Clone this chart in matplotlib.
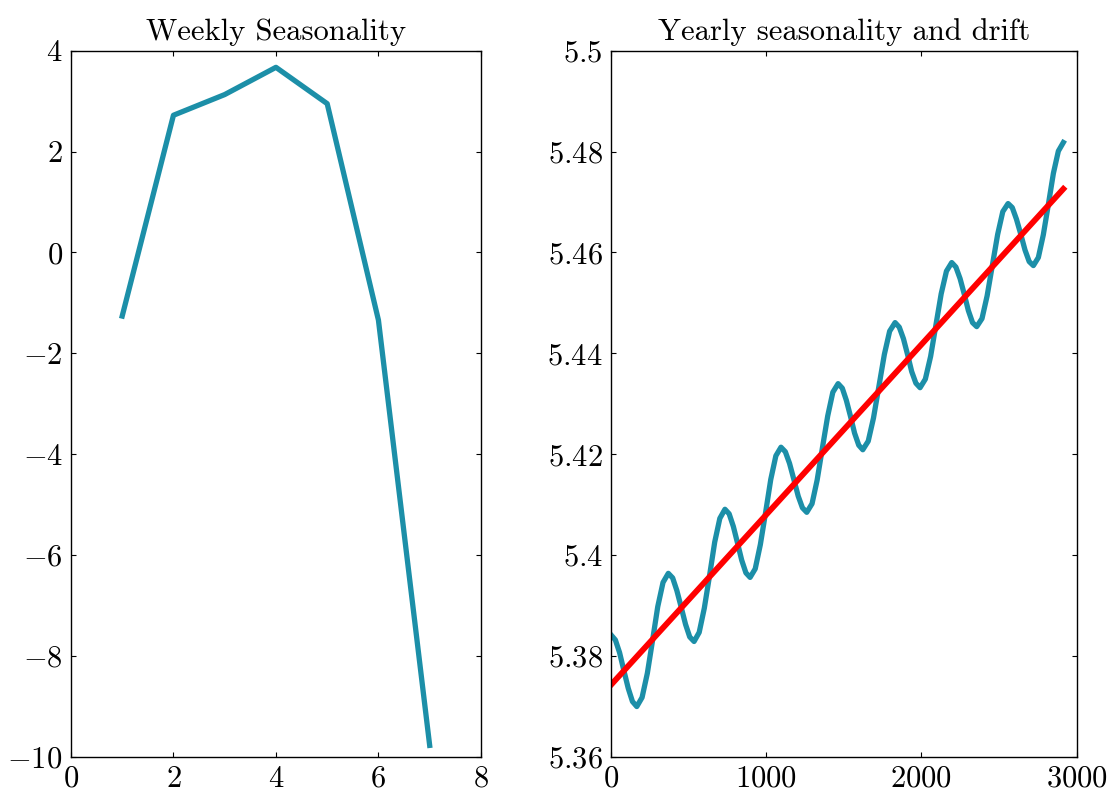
"""Two-panel seasonality plot: weekly pattern and yearly cycle with drift."""

import matplotlib
matplotlib.use("Agg")
import matplotlib.pyplot as plt
from matplotlib.ticker import FuncFormatter

plt.rcParams["font.family"] = "cmr10"
plt.rcParams["mathtext.fontset"] = "cm"
plt.rcParams["axes.formatter.use_mathtext"] = True
plt.rcParams["xtick.direction"] = "in"
plt.rcParams["ytick.direction"] = "in"
plt.rcParams["xtick.top"] = True
plt.rcParams["ytick.right"] = True

SEASON_COLOR = "#1c8fa8"
DRIFT_COLOR = "#ff0000"

# weekly component, one value per weekday
weekday = [1, 2, 3, 4, 5, 6, 7]
weekly = [-1.26, 2.72, 3.13, 3.67, 2.95, -1.34, -9.77]

# yearly seasonality + trend (day index, value)
days = [0, 28, 55, 83, 111, 138,
        166, 200, 234, 268, 301, 335,
        369, 397, 424, 452, 480, 507,
        535, 568, 601, 635, 668, 701,
        734, 761, 788, 815, 842, 869,
        896, 929, 962, 996, 1029, 1062,
        1095, 1123, 1150, 1178, 1206, 1233,
        1261, 1295, 1328, 1362, 1396, 1429,
        1463, 1490, 1516, 1543, 1569, 1596,
        1622, 1657, 1691, 1726, 1761, 1795,
        1830, 1857, 1884, 1911, 1937, 1964,
        1991, 2025, 2059, 2093, 2127, 2161,
        2195, 2222, 2249, 2276, 2302, 2329,
        2356, 2390, 2423, 2457, 2491, 2524,
        2558, 2585, 2612, 2640, 2667, 2694,
        2721, 2753, 2785, 2818, 2850, 2882,
        2914]
yearly = [5.3842, 5.3832, 5.3807, 5.3771, 5.3736, 5.3710,
          5.3700, 5.3718, 5.3766, 5.3832, 5.3898, 5.3946,
          5.3964, 5.3955, 5.3930, 5.3897, 5.3863, 5.3838,
          5.3829, 5.3847, 5.3895, 5.3960, 5.4026, 5.4073,
          5.4091, 5.4082, 5.4057, 5.4024, 5.3990, 5.3965,
          5.3956, 5.3973, 5.4021, 5.4085, 5.4150, 5.4197,
          5.4214, 5.4205, 5.4182, 5.4150, 5.4117, 5.4094,
          5.4085, 5.4102, 5.4149, 5.4213, 5.4276, 5.4323,
          5.4340, 5.4331, 5.4307, 5.4275, 5.4242, 5.4218,
          5.4209, 5.4226, 5.4272, 5.4335, 5.4398, 5.4444,
          5.4461, 5.4452, 5.4429, 5.4397, 5.4364, 5.4341,
          5.4332, 5.4349, 5.4394, 5.4456, 5.4518, 5.4563,
          5.4580, 5.4571, 5.4548, 5.4517, 5.4485, 5.4461,
          5.4453, 5.4469, 5.4514, 5.4575, 5.4636, 5.4681,
          5.4697, 5.4689, 5.4666, 5.4636, 5.4605, 5.4582,
          5.4574, 5.4590, 5.4635, 5.4696, 5.4757, 5.4801,
          5.4818]

# linear drift, endpoints
drift_days = [0, 2914]
drift = [5.3743, 5.4726]

fig = plt.figure(figsize=(11.14, 7.93), dpi=100)
ax1 = fig.add_axes([0.0637, 0.0454, 0.368, 0.8907])
ax2 = fig.add_axes([0.5485, 0.0454, 0.418, 0.8907])

ax1.plot(weekday, weekly, color=SEASON_COLOR, lw=3.8)
ax1.set_xlim(0, 8)
ax1.set_ylim(-10, 4)
ax1.set_xticks([0, 2, 4, 6, 8])
ax1.set_yticks(range(-10, 5, 2))
ax1.set_title("Weekly Seasonality", fontsize=22, pad=8)

ax2.plot(days, yearly, color=SEASON_COLOR, lw=3.8, solid_joinstyle="round")
ax2.plot(drift_days, drift, color=DRIFT_COLOR, lw=4.2)
ax2.set_xlim(0, 3000)
ax2.set_ylim(5.36, 5.5)
ax2.set_xticks([0, 1000, 2000, 3000])
ax2.set_yticks([5.36, 5.38, 5.40, 5.42, 5.44, 5.46, 5.48, 5.50])
ax2.yaxis.set_major_formatter(FuncFormatter(lambda v, _: f"${v:g}$"))
ax2.set_title("Yearly seasonality and drift", fontsize=22, pad=8)

for ax in (ax1, ax2):
    ax.tick_params(labelsize=22, pad=6)
    for s in ax.spines.values():
        s.set_linewidth(1.0)

fig.savefig("out.png", dpi=100)
